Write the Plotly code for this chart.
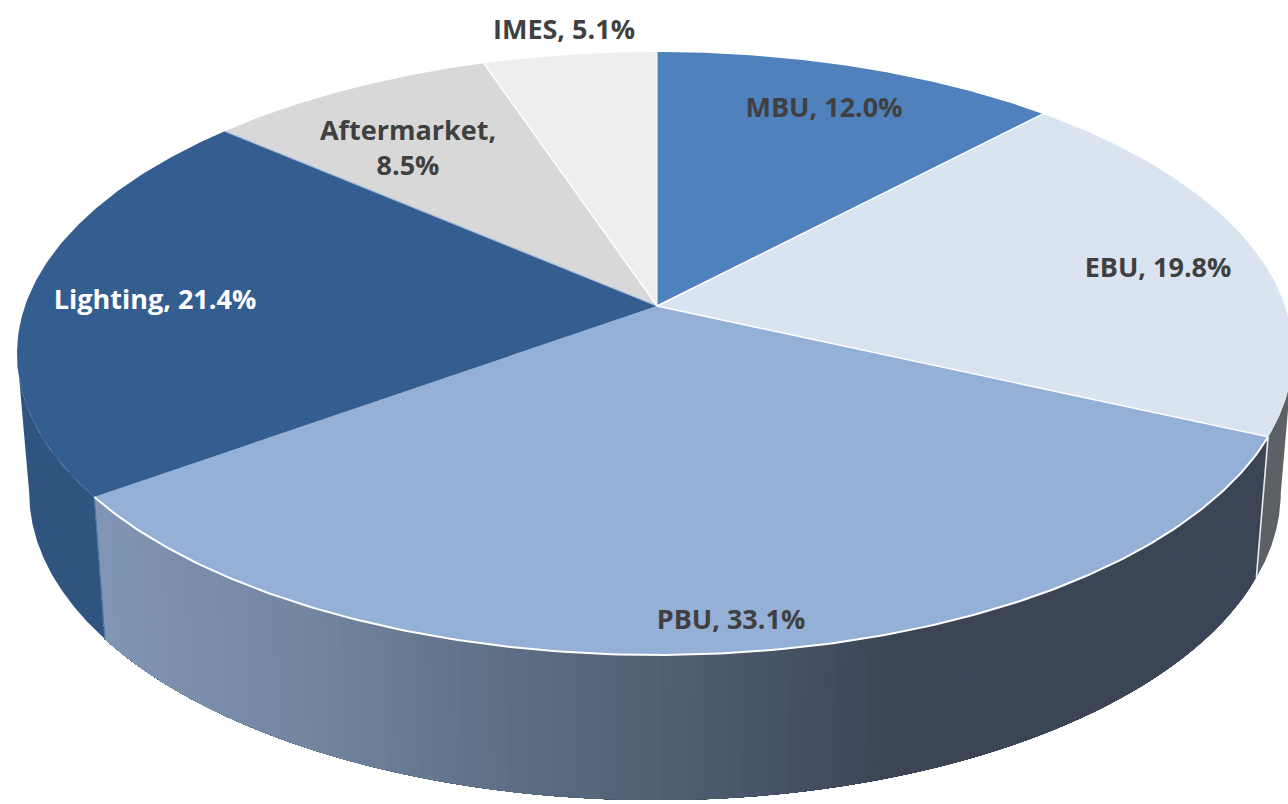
import numpy as np
import plotly.graph_objects as go

categories = ["MBU", "EBU", "PBU", "Lighting", "Aftermarket", "IMES"]
values = [12.0, 19.8, 33.1, 21.4, 8.5, 5.1]
label_text = ["MBU, 12.0%", "EBU, 19.8%", "PBU, 33.1%", "Lighting, 21.4%", "Aftermarket,<br>8.5%", "IMES, 5.1%"]

top_colors = ["#4f81bd", "#dae4f0", "#94b0d6", "#355e90", "#d8d8d8", "#eeeeee"]
label_colors = ["#404040", "#404040", "#404040", "#ffffff", "#404040", "#404040"]
label_x = [824, 1158, 731, 155, 408, 564]
label_y = [110.5, 270.5, 622.5, 302, 151, 32]

# perspective model of the pie disc, in picture units
K = 0.1575
TOP = dict(cx=657.0, cy=306.0, wl=632.0, wr=628.0, s=294.0)
BOT = dict(cx=656.0, cy=444.0, wl=619.0, wr=617.0, s=300.0)

# colour ramp of the front wall of PBU, by horizontal position
ramp_x = [100, 320, 500, 660, 800, 900, 1300]
ramp_r = [130, 114, 95, 82, 70, 59, 59]
ramp_g = [150, 134, 112, 97, 82, 69, 69]
ramp_b = [182, 160, 135, 116, 100, 86, 86]


def project(t, d):
    u, v = np.sin(t), -np.cos(t)
    q = 1 - K * v
    w = np.where(u < 0, d["wl"], d["wr"])
    return d["cx"] + w * u / q, d["cy"] + d["s"] * v / q


total = sum(values)
edges = 2 * np.pi * np.concatenate([[0], np.cumsum(values)]) / total
# azimuths at which the rim turns back in the picture (left and right outline)
t_left = 2 * np.pi - np.arccos(-K)
t_right = np.arccos(-K)

fig = go.Figure()


def poly(x, y, color, line=None, width=0):
    fig.add_trace(go.Scatter(
        x=list(x), y=list(y), mode="lines", fill="toself", fillcolor=color,
        line=dict(color=line or color, width=width), hoverinfo="skip", showlegend=False))


def stroke(x, y, color, width):
    fig.add_trace(go.Scatter(
        x=list(x), y=list(y), mode="lines", line=dict(color=color, width=width),
        hoverinfo="skip", showlegend=False))


def wall(t0, t1, color):
    t = np.linspace(t0, t1, 120)
    xa, ya = project(t, TOP)
    xb, yb = project(t, BOT)
    poly(np.r_[xa, xb[::-1]], np.r_[ya, yb[::-1]], color)


# side walls
wall(edges[3], t_left, "#2f5480")    # Lighting
wall(t_right, edges[2], "#5d6165")   # EBU
# PBU wall: each band reaches back to the dark end and is overpainted by the next
n = 130
ts = np.linspace(edges[3], edges[2], n + 1)
for b in ts[::-1]:
    t = np.linspace(b, edges[3], 60)
    xa, ya = project(t, TOP)
    xb, yb = project(t, BOT)
    xm = (xa[0] + xb[0]) / 2
    c = "rgb(%d,%d,%d)" % tuple(np.interp(xm, ramp_x, r) for r in (ramp_r, ramp_g, ramp_b))
    poly(np.r_[xa, xb[::-1]], np.r_[ya, yb[::-1]], c)

# wall seams
xa, ya = project(edges[3], TOP)
xb, yb = project(edges[3], BOT)
stroke([xa, xb], [ya, yb], "#4a75a8", 1.2)
xa, ya = project(edges[2], TOP)
xb, yb = project(edges[2], BOT)
stroke([xa, xb], [ya, yb], "#e8eaee", 1.6)

# top faces
apex = (TOP["cx"], TOP["cy"])
for i in range(len(values)):
    t = np.linspace(edges[i], edges[i + 1], 120)
    x, y = project(t, TOP)
    poly(np.r_[apex[0], x], np.r_[apex[1], y], top_colors[i])

# PBU front rim
x, y = project(np.linspace(edges[2], edges[3], 200), TOP)
stroke(x, y, "#ffffff", 2)

# radial seams
seam_colors = ["#ffffff", "#ffffff", None, "#9db6d6", "#ffffff", "#ffffff"]
seam_widths = [1.4, 1.4, 0, 1.2, 1.4, 1]
for i in range(1, len(values) + 1):
    if seam_colors[i - 1] is None:
        continue
    x, y = project(edges[i], TOP)
    stroke([apex[0], float(x)], [apex[1], float(y)], seam_colors[i - 1], seam_widths[i - 1])

# labels
for i in range(len(values)):
    fig.add_trace(go.Scatter(
        x=[label_x[i]], y=[label_y[i]], mode="text", text=[label_text[i]],
        textposition="middle center",
        textfont=dict(family="Open Sans", size=27, color=label_colors[i], weight=700),
        hoverinfo="skip", showlegend=False, name=categories[i]))

fig.update_layout(
    width=1288, height=804, autosize=False,
    margin=dict(l=0, r=0, t=0, b=0),
    paper_bgcolor="#ffffff", plot_bgcolor="#ffffff",
    xaxis=dict(range=[0, 1288], visible=False, fixedrange=True),
    yaxis=dict(range=[804, 0], visible=False, fixedrange=True),
)
fig.write_html("out.html", config=dict(displayModeBar=False),
               post_script="document.body.style.margin='0';document.documentElement.style.overflow='hidden';")
